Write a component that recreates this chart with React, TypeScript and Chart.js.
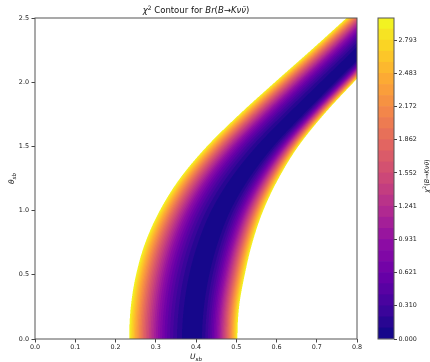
import React, { useEffect, useRef } from "react";
import { Chart, registerables } from "chart.js";
Chart.register(...registerables);

const FONT = "'DejaVu Sans', sans-serif";

// axes
const X_TICKS = [0, 0.1, 0.2, 0.3, 0.4, 0.5, 0.6, 0.7, 0.8];
const Y_TICKS = [0, 0.5, 1.0, 1.5, 2.0, 2.5];

// contour levels: 30 levels from 0 to 3.0 (29 filled bands)
const CHI2_MAX = 3.0;
const N_LEVELS = 30;
const LEVELS = Array.from({ length: N_LEVELS }, (_, i) => (CHI2_MAX * i) / (N_LEVELS - 1));
const CB_TICK_LABELS = ["0.000", "0.310", "0.621", "0.931", "1.241", "1.552", "1.862", "2.172", "2.483", "2.793"];

// curves (theta rows): chi2 = 3 edge on the left, chi2 = 0 valley, chi2 = 3 edge on the right
const THETA_ROWS = [0, 0.25, 0.5, 0.75, 1.0, 1.25, 1.5, 1.75, 2.0, 2.25, 2.5];
const U_LEFT = [0.234, 0.238, 0.251, 0.274, 0.31, 0.36, 0.427, 0.508, 0.596, 0.686, 0.774];
const U_MIN = [0.395, 0.4, 0.413, 0.435, 0.467, 0.515, 0.578, 0.655, 0.735, 0.815, 0.89];
const U_RIGHT = [0.503, 0.507, 0.521, 0.54, 0.567, 0.605, 0.654, 0.718, 0.792, 0.87, 0.95];

const PLASMA = ["#0d0887", "#41049d", "#6a00a8", "#8f0da4", "#b12a90", "#cc4778", "#e16462", "#f2844b", "#fca636", "#fcce25", "#f0f921"];

function hexRgb(h: string) {
  return [parseInt(h.slice(1, 3), 16), parseInt(h.slice(3, 5), 16), parseInt(h.slice(5, 7), 16)];
}
const PLASMA_RGB = PLASMA.map(hexRgb);
function plasma(t: number) {
  const tt = Math.max(0, Math.min(1, t)) * (PLASMA_RGB.length - 1);
  const i = Math.min(PLASMA_RGB.length - 2, Math.floor(tt));
  const f = tt - i;
  const a = PLASMA_RGB[i], b = PLASMA_RGB[i + 1];
  return [0, 1, 2].map((k) => Math.round(a[k] + (b[k] - a[k]) * f));
}
const BAND_RGB = LEVELS.slice(0, -1).map((_, k) => plasma((k + 0.5) / (N_LEVELS - 1)));
const rgbStr = (c: number[]) => `rgb(${c[0]},${c[1]},${c[2]})`;

function rowValue(arr: number[], th: number) {
  const h = THETA_ROWS[1] - THETA_ROWS[0];
  const n = arr.length;
  let i = Math.floor((th - THETA_ROWS[0]) / h);
  i = Math.max(0, Math.min(n - 2, i));
  const s = (th - THETA_ROWS[i]) / h;
  const p0 = i === 0 ? arr[1] : arr[i - 1];
  const p1 = arr[i], p2 = arr[i + 1];
  const p3 = i + 2 < n ? arr[i + 2] : 2 * arr[n - 1] - arr[n - 2];
  return 0.5 * (2 * p1 + (-p0 + p2) * s + (2 * p0 - 5 * p1 + 4 * p2 - p3) * s * s + (-p0 + 3 * p1 - 3 * p2 + p3) * s * s * s);
}

type Run = { t: string; font: string; dy?: number };
function drawRuns(ctx: CanvasRenderingContext2D, runs: Run[], x: number, y: number, rot = 0) {
  ctx.save();
  ctx.translate(x, y);
  ctx.rotate(rot);
  ctx.textAlign = "left";
  ctx.textBaseline = "alphabetic";
  ctx.fillStyle = "#111";
  let total = 0;
  for (const r of runs) {
    ctx.font = r.font;
    total += ctx.measureText(r.t).width;
  }
  let cx = -total / 2;
  for (const r of runs) {
    ctx.font = r.font;
    ctx.fillText(r.t, cx, r.dy || 0);
    cx += ctx.measureText(r.t).width;
  }
  ctx.restore();
}

const fieldPlugin = {
  id: "contourField",
  beforeDatasetsDraw(chart: any) {
    const { ctx, chartArea, scales } = chart;
    const xS = scales.x, yS = scales.y;
    const left = Math.round(chartArea.left), top = Math.round(chartArea.top);
    const w = Math.round(chartArea.right) - left, h = Math.round(chartArea.bottom) - top;
    const off = document.createElement("canvas");
    off.width = w;
    off.height = h;
    const octx = off.getContext("2d")!;
    const img = octx.createImageData(w, h);
    const SS = 3;
    const us: number[] = [];
    for (let px = 0; px < w * SS; px++) us.push(xS.getValueForPixel(left + (px + 0.5) / SS));
    const rows: number[][] = [];
    for (let py = 0; py < h * SS; py++) {
      const th = yS.getValueForPixel(top + (py + 0.5) / SS);
      rows.push([rowValue(U_LEFT, th), rowValue(U_MIN, th), rowValue(U_RIGHT, th)]);
    }
    const step = LEVELS[1] - LEVELS[0];
    for (let py = 0; py < h; py++) {
      for (let px = 0; px < w; px++) {
        let r = 0, g = 0, b = 0, cnt = 0;
        for (let sy = 0; sy < SS; sy++) {
          const [ul, uc, ur] = rows[py * SS + sy];
          for (let sx = 0; sx < SS; sx++) {
            const u = us[px * SS + sx];
            const t = u < uc ? (uc - u) / (uc - ul) : (u - uc) / (ur - uc);
            const chi = CHI2_MAX * t * t;
            if (chi >= CHI2_MAX) continue;
            const k = Math.min(N_LEVELS - 2, Math.floor(chi / step));
            const c = BAND_RGB[k];
            r += c[0]; g += c[1]; b += c[2]; cnt++;
          }
        }
        const o = (py * w + px) * 4;
        if (cnt > 0) {
          img.data[o] = r / cnt;
          img.data[o + 1] = g / cnt;
          img.data[o + 2] = b / cnt;
          img.data[o + 3] = Math.round((255 * cnt) / (SS * SS));
        }
      }
    }
    octx.putImageData(img, 0, 0);
    ctx.drawImage(off, left, top);
  },
  afterDraw(chart: any) {
    const { ctx, chartArea } = chart;
    const { left, top, right, bottom } = chartArea;
    ctx.save();
    ctx.strokeStyle = "#555";
    ctx.lineWidth = 1;
    ctx.strokeRect(left, top, right - left, bottom - top);
    ctx.restore();
    const cxm = (left + right) / 2;
    drawRuns(ctx, [
      { t: "χ", font: `italic 8.5px ${FONT}` },
      { t: "2", font: `6px ${FONT}`, dy: -3.5 },
      { t: " Contour for ", font: `8.5px ${FONT}` },
      { t: "Br", font: `italic 8.5px ${FONT}` },
      { t: "(", font: `8.5px ${FONT}` },
      { t: "B", font: `italic 8.5px ${FONT}` },
      { t: "→", font: `8.5px ${FONT}` },
      { t: "Kνν\u0304", font: `italic 8.5px ${FONT}` },
      { t: ")", font: `8.5px ${FONT}` },
    ], cxm, 13);
    drawRuns(ctx, [
      { t: "U", font: `italic 7.5px ${FONT}` },
      { t: "sb", font: `italic 5.5px ${FONT}`, dy: 1.8 },
    ], cxm, 359);
    drawRuns(ctx, [
      { t: "θ", font: `italic 7.5px ${FONT}` },
      { t: "sb", font: `italic 5.5px ${FONT}`, dy: 1.8 },
    ], 14, (top + bottom) / 2, -Math.PI / 2);
  },
};

const cbPlugin = {
  id: "cbFrame",
  afterDraw(chart: any) {
    const { ctx, chartArea } = chart;
    const { left, top, right, bottom } = chartArea;
    ctx.save();
    ctx.strokeStyle = "#555";
    ctx.lineWidth = 1;
    ctx.strokeRect(left, top, right - left, bottom - top);
    ctx.restore();
    drawRuns(ctx, [
      { t: "χ", font: `italic 6.5px ${FONT}` },
      { t: "2", font: `4.6px ${FONT}`, dy: -2.6 },
      { t: "(", font: `6.5px ${FONT}` },
      { t: "B", font: `italic 6.5px ${FONT}` },
      { t: "→", font: `6.5px ${FONT}` },
      { t: "Kνν\u0304", font: `italic 6.5px ${FONT}` },
      { t: ")", font: `6.5px ${FONT}` },
    ], 69, 176, -Math.PI / 2);
  },
};

export default function App() {
  const mainRef = useRef<HTMLCanvasElement>(null);
  const cbRef = useRef<HTMLCanvasElement>(null);

  useEffect(() => {
    const tickFont = { family: FONT, size: 6.4 };
    const main = new Chart(mainRef.current!, {
      type: "scatter",
      data: { datasets: [{ data: [] }] },
      options: {
        animation: false,
        responsive: false,
        layout: { padding: { left: 0, right: 73, top: 18, bottom: 0 } },
        plugins: { legend: { display: false }, tooltip: { enabled: false }, title: { display: false } },
        scales: {
          x: {
            type: "linear",
            min: 0,
            max: 0.8,
            afterBuildTicks: (s: any) => { s.ticks = X_TICKS.map((v) => ({ value: v })); },
            afterFit: (s: any) => { s.height = 23; },
            ticks: { font: tickFont, color: "#222", padding: 1, maxRotation: 0, callback: (v: any) => Number(v).toFixed(1) },
            grid: { display: true, drawOnChartArea: false, drawTicks: true, tickLength: 3.5, tickColor: "#444" },
            border: { display: false },
          },
          y: {
            type: "linear",
            min: 0,
            max: 2.5,
            afterBuildTicks: (s: any) => { s.ticks = Y_TICKS.map((v) => ({ value: v })); },
            afterFit: (s: any) => { s.width = 35; },
            ticks: { font: tickFont, color: "#222", padding: 2.5, callback: (v: any) => Number(v).toFixed(1) },
            grid: { display: true, drawOnChartArea: false, drawTicks: true, tickLength: 3.5, tickColor: "#444" },
            border: { display: false },
          },
        },
      },
      plugins: [fieldPlugin],
    } as any);

    const cb = new Chart(cbRef.current!, {
      type: "bar",
      data: {
        labels: [""],
        datasets: LEVELS.slice(0, -1).map((lv, k) => ({
          data: [LEVELS[k + 1] - lv],
          backgroundColor: rgbStr(BAND_RGB[k]),
          borderWidth: 0,
          barPercentage: 1,
          categoryPercentage: 1,
        })),
      },
      options: {
        animation: false,
        responsive: false,
        layout: { padding: { left: 18, right: 0, top: 18, bottom: 23 } },
        plugins: { legend: { display: false }, tooltip: { enabled: false } },
        scales: {
          x: { stacked: true, display: false },
          y: {
            stacked: true,
            position: "right",
            min: 0,
            max: CHI2_MAX,
            afterBuildTicks: (s: any) => { s.ticks = CB_TICK_LABELS.map((_, i) => ({ value: LEVELS[i * 3] })); },
            afterFit: (s: any) => { s.width = 36; },
            ticks: { font: tickFont, color: "#222", padding: 1.5, callback: (_v: any, i: number) => CB_TICK_LABELS[i] },
            grid: { display: true, drawOnChartArea: false, drawTicks: true, tickLength: 3, tickColor: "#444" },
            border: { display: false },
          },
        },
      },
      plugins: [cbPlugin],
    } as any);

    return () => {
      main.destroy();
      cb.destroy();
    };
  }, []);

  return (
    <div style={{ position: "fixed", left: 0, top: 0, width: 430, height: 362, background: "#fff" }}>
      <canvas ref={mainRef} width={430} height={362} style={{ position: "absolute", left: 0, top: 0 }} />
      <canvas ref={cbRef} width={70} height={362} style={{ position: "absolute", left: 360, top: 0 }} />
    </div>
  );
}
